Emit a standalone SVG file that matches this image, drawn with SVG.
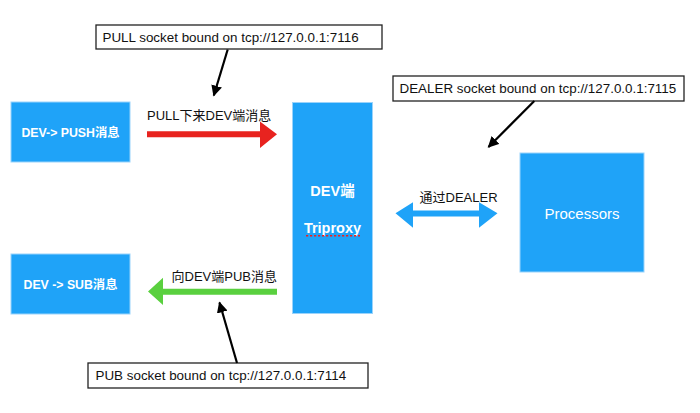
<svg xmlns="http://www.w3.org/2000/svg" width="700" height="413" viewBox="0 0 700 413">
<defs>
<style>
.node{fill:#1fa3f8;stroke:#9ad3fb;stroke-width:1}
.nt{font-family:"Liberation Sans","Noto Sans CJK SC",sans-serif;font-weight:bold;fill:#fff;font-size:12.3px;text-anchor:middle}
.big{font-size:14.5px}
.lbl{font-family:"Liberation Sans","Noto Sans CJK SC",sans-serif;font-size:13px;fill:#111}
.nl{font-size:13.4px}
.note{fill:#fff;stroke:#222;stroke-width:1.3}
.ptr{stroke:#000;stroke-width:2.2;fill:none}
</style>
<marker id="ah" viewBox="0 0 10 10" refX="9" refY="5" markerWidth="5" markerHeight="5" orient="auto" markerUnits="strokeWidth">
<path d="M0,0 L10,5 L0,10 z" fill="#000"/>
</marker>
</defs>
<rect width="700" height="413" fill="#fff"/>
<g id="push">
<rect class="node" x="11" y="102" width="119" height="60"/>
<text class="nt" x="70.5" y="136.5">DEV-&gt; PUSH消息</text>
</g>
<g id="sub">
<rect class="node" x="11" y="254" width="119" height="60"/>
<text class="nt" x="70.5" y="288.5">DEV -&gt; SUB消息</text>
</g>
<g id="triproxy">
<rect class="node" x="292.5" y="102.5" width="80" height="211"/>
<text class="nt big" x="332.5" y="195.5">DEV端</text>
<text class="nt big" x="332.5" y="232.5">Triproxy</text>
<line x1="306" y1="235.8" x2="360" y2="235.8" stroke="#f0201c" stroke-width="1.6" stroke-dasharray="2.2,1.8"/>
</g>
<g id="processors">
<rect class="node" x="520" y="153" width="124" height="119"/>
<text x="582" y="218.5" font-family="Liberation Sans, sans-serif" font-size="15px" fill="#fff" text-anchor="middle">Processors</text>
</g>
<g id="note-pull">
<rect class="note" x="96" y="25" width="286" height="24"/>
<text class="lbl nl" x="102.5" y="41.8">PULL socket bound on tcp://127.0.0.1:7116</text>
</g>
<g id="note-dealer">
<rect class="note" x="393" y="76" width="291" height="25"/>
<text class="lbl nl" x="399.5" y="93.3">DEALER socket bound on tcp://127.0.0.1:7115</text>
</g>
<g id="note-pub">
<rect class="note" x="88" y="363" width="280" height="25"/>
<text class="lbl nl" x="95.5" y="379.8">PUB socket bound on tcp://127.0.0.1:7114</text>
</g>
<g id="connectors">
<polygon points="147,131.3 260,131.3 260,121.5 277,134.3 260,148 260,137.3 147,137.3" fill="#e8231f"/>
<text class="lbl" x="147" y="120">PULL下来DEV端消息</text>
<polygon points="277,288.7 163,288.7 163,277.7 148,291.5 163,305 163,294.7 277,294.7" fill="#5ad03f"/>
<text class="lbl" x="171.5" y="280.5">向DEV端PUB消息</text>
<polygon points="395.5,213.3 413,202.3 413,210.5 479,210.5 479,202.3 497.5,213.3 479,227.7 479,216.5 413,216.5 413,227.7" fill="#1fa3f8"/>
<text class="lbl" x="419.5" y="201.5">通过DEALER</text>
<line class="ptr" x1="227.7" y1="49.5" x2="213.8" y2="95.5" marker-end="url(#ah)"/>
<line class="ptr" x1="534.3" y1="101" x2="488.5" y2="147" marker-end="url(#ah)"/>
<line class="ptr" x1="237" y1="363" x2="219.5" y2="302.5" marker-end="url(#ah)"/>
</g>
</svg>
